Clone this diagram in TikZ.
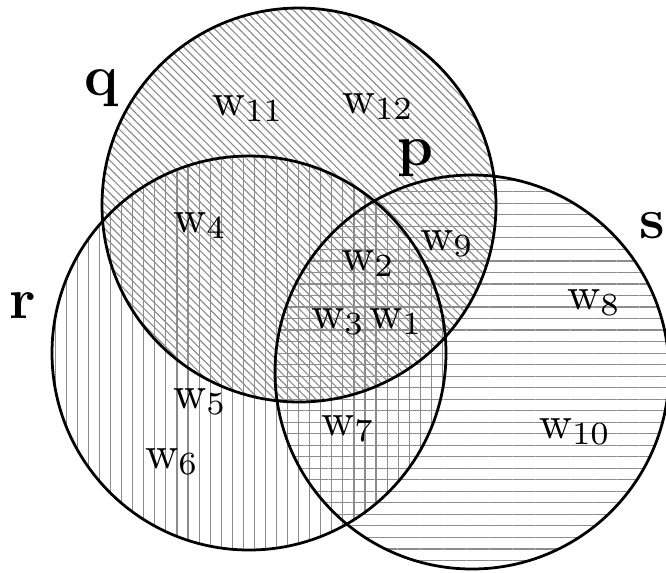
\documentclass[tikz,border=0pt]{standalone}
\usepackage{xcolor}
\usepackage{tikz}
\usetikzlibrary{patterns.meta}
\definecolor{hatchgrey}{HTML}{8C8C8C}
\newcommand{\vradius}{197}

\begin{document}
\begin{tikzpicture}[
    x=0.217pt, y=-0.217pt,
    every node/.style={inner sep=0pt, anchor=base},
    world/.style={font=\fontsize{10}{12}\selectfont},
    setname/.style={font=\fontsize{12.5}{15}\selectfont\bfseries},
    rim/.style={draw=black, line width=0.6pt},
    hatchq/.style={pattern={Lines[angle=-45, distance=1.25pt, line width=0.25pt]}, pattern color=hatchgrey},
    hatchr/.style={pattern={Lines[angle=90, distance=2.4pt, line width=0.25pt]}, pattern color=hatchgrey},
    hatchs/.style={pattern={Lines[angle=0, distance=2.5pt, line width=0.25pt]}, pattern color=hatchgrey}
  ]
  \useasboundingbox (0,0) rectangle (666,572);

  % --- centres des trois ensembles ---------------------------------------
  \coordinate (cq) at (299,205);
  \coordinate (cr) at (249,353);
  \coordinate (cs) at (472,372);

  % --- hachures : une direction par ensemble -------------------------------
  \path[hatchq] (cq) circle[radius=\vradius];
  \path[hatchr] (cr) circle[radius=\vradius];
  \path[hatchs] (cs) circle[radius=\vradius];

  % --- contours ------------------------------------------------------------
  \foreach \c in {cq,cr,cs} {\draw[rim] (\c) circle[radius=\vradius];}

  % --- noms des ensembles --------------------------------------------------
  \node[setname] (lq) at (102,95)  {q};
  \node[setname] (lp) at (416,165) {p};
  \node[setname] (lr) at (23,318)  {r};
  \node[setname] (ls) at (652,238) {s};

  % --- mondes --------------------------------------------------------------
  \foreach \n/\x/\y in {1/396/328, 2/368/270, 3/338/328, 4/200/232, 5/200/408, 6/172/468,
                        7/348/435, 8/594/309, 9/447/250, 10/575/438, 11/248/115, 12/378/113}
    {\node[world] (w\n) at (\x,\y) {$\mathrm{w}_{\n}$};}

\end{tikzpicture}
\end{document}
